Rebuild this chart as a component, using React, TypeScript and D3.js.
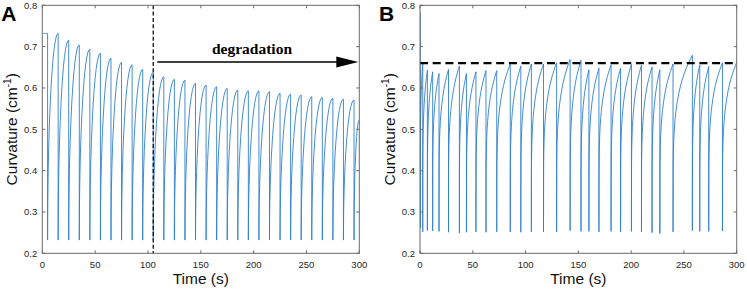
import React from "react";
import * as d3 from "d3";

// ---------- data ----------
const timeTicks = [0, 50, 100, 150, 200, 250, 300];
const curvTicks = [0.2, 0.3, 0.4, 0.5, 0.6, 0.7, 0.8];

// Panel A: drop times (s), peak before each drop, bottom after each drop
const dropTimesA = [5, 15, 25, 35, 45, 55, 65, 75, 85, 95, 105, 115, 125, 135, 145, 155, 165, 175, 185, 195, 205, 215, 225, 235, 245, 255, 265, 275, 285, 295];
const peaksA = [0.732, 0.732, 0.716, 0.704, 0.694, 0.684, 0.672, 0.662, 0.656, 0.645, 0.638, 0.627, 0.621, 0.619, 0.611, 0.607, 0.603, 0.599, 0.595, 0.593, 0.593, 0.591, 0.587, 0.585, 0.583, 0.579, 0.577, 0.575, 0.573, 0.571];
const bottomsA = [0.232, 0.232, 0.232, 0.232, 0.232, 0.232, 0.232, 0.232, 0.232, 0.232, 0.232, 0.232, 0.232, 0.232, 0.232, 0.232, 0.232, 0.232, 0.232, 0.232, 0.232, 0.232, 0.232, 0.232, 0.232, 0.232, 0.232, 0.232, 0.232, 0.232];
const startA = [0, 0.732];
const endA = [300, 0.522];
const degradationStart = 105;

// Panel B
const dropTimesB = [0.3, 2.6, 7, 12, 18, 27, 37.3, 44, 53, 62.5, 72.7, 85.5, 95.5, 105.5, 117, 129.4, 142.2, 152.5, 160, 169.5, 181, 190, 200.3, 209.8, 219.8, 227.2, 239.7, 258, 265, 273.5, 286.5];
const peaksB = [0.782, 0.66, 0.643, 0.639, 0.635, 0.645, 0.653, 0.635, 0.639, 0.642, 0.642, 0.658, 0.653, 0.658, 0.658, 0.661, 0.669, 0.667, 0.644, 0.648, 0.656, 0.648, 0.657, 0.655, 0.651, 0.644, 0.658, 0.679, 0.656, 0.652, 0.661];
const bottomsB = [0.261, 0.252, 0.255, 0.254, 0.253, 0.251, 0.249, 0.251, 0.252, 0.251, 0.252, 0.252, 0.251, 0.252, 0.252, 0.252, 0.255, 0.253, 0.253, 0.252, 0.253, 0.252, 0.253, 0.252, 0.25, 0.248, 0.252, 0.255, 0.253, 0.253, 0.254];
const startB = [0, 0.782];
const endB = [300, 0.662];
const thresholdB = 0.66;

// normalized recovery shape within one cycle (fraction of cycle, fraction of rise)
const profileS = [0, 0.01, 0.02, 0.04, 0.07, 0.1, 0.15, 0.2, 0.3, 0.4, 0.5, 0.6, 0.7, 0.8, 0.9, 1];
const profileA = [0, 0.141, 0.199, 0.28, 0.367, 0.436, 0.527, 0.6, 0.714, 0.8, 0.866, 0.917, 0.954, 0.98, 0.995, 1];
const profileB = [0, 0.398, 0.457, 0.526, 0.588, 0.631, 0.684, 0.725, 0.786, 0.833, 0.871, 0.903, 0.931, 0.956, 0.979, 1];

function buildSeries(start: number[], drops: number[], peaks: number[], bottoms: number[], end: number[], prof: number[]) {
  const pts: [number, number][] = [];
  let pt = start[0], pv = start[1];
  pts.push([pt, pv]);
  const seg = (t1: number, v1: number) => {
    for (let j = 1; j < profileS.length; j++) {
      pts.push([pt + (t1 - pt) * profileS[j], pv + (v1 - pv) * prof[j]]);
    }
  };
  drops.forEach((t, i) => {
    seg(t, peaks[i]);
    pts.push([t, bottoms[i]]);
    pt = t;
    pv = bottoms[i];
  });
  seg(end[0], end[1]);
  return pts;
}

const FONT = "'Liberation Sans', Arial, Helvetica, sans-serif";
const TOP = 5.3, BOTTOM = 253.3;

function Panel({ left, right, series, label, clipId, children }: any) {
  const x = d3.scaleLinear().domain([0, 300]).range([left, right]);
  const y = d3.scaleLinear().domain([0.2, 0.8]).range([BOTTOM, TOP]);
  const line = d3.line<[number, number]>().x((d) => x(d[0])).y((d) => y(d[1]));
  const axisColor = "#6b6b6b";
  const cx = (left + right) / 2;
  return (
    <g>
      <defs>
        <clipPath id={clipId}>
          <rect x={left} y={TOP} width={right - left} height={BOTTOM - TOP} />
        </clipPath>
      </defs>
      <path d={line(series) || ""} fill="none" stroke="#2f80cc" strokeWidth={0.9} clipPath={`url(#${clipId})`} />
      {children(x, y)}
      <rect x={left} y={TOP} width={right - left} height={BOTTOM - TOP} fill="none" stroke={axisColor} strokeWidth={1} />
      {timeTicks.map((t) => (
        <g key={"x" + t}>
          <line x1={x(t)} x2={x(t)} y1={BOTTOM} y2={BOTTOM - 3} stroke={axisColor} />
          <line x1={x(t)} x2={x(t)} y1={TOP} y2={TOP + 3} stroke={axisColor} />
          <text x={x(t)} y={268} textAnchor="middle" fontSize={9.5} fontFamily={FONT} fill="#262626">{t}</text>
        </g>
      ))}
      {curvTicks.map((v) => (
        <g key={"y" + v}>
          <line x1={left} x2={left + 3} y1={y(v)} y2={y(v)} stroke={axisColor} />
          <line x1={right} x2={right - 3} y1={y(v)} y2={y(v)} stroke={axisColor} />
          <text x={left - 5} y={y(v) + 3.4} textAnchor="end" fontSize={9.5} fontFamily={FONT} fill="#262626">{v.toFixed(1)}</text>
        </g>
      ))}
      <text x={cx} y={283.5} textAnchor="middle" fontSize={15.5} fontFamily={FONT} fill="#111">Time (s)</text>
      <text transform={`translate(${left - 25},${(TOP + BOTTOM) / 2}) rotate(-90)`} textAnchor="middle" fontSize={15.5} fontFamily={FONT} fill="#111">
        Curvature (cm<tspan fontSize={10} dy={-6}>-1</tspan><tspan dy={6}>)</tspan>
      </text>
      <text x={left - 41} y={20.5} fontSize={21} fontWeight="bold" fontFamily={FONT} fill="#000">{label}</text>
    </g>
  );
}

export default function App() {
  const seriesA = buildSeries(startA, dropTimesA, peaksA, bottomsA, endA, profileA);
  const seriesB = buildSeries(startB, dropTimesB, peaksB, bottomsB, endB, profileB);
  return (
    <svg width={747} height={291} style={{ position: "absolute", left: 0, top: 0, background: "#fff" }}>
      <Panel left={42.3} right={359.3} series={seriesA} label="A" clipId="clipA">
        {(x: any, y: any) => (
          <g>
            <line x1={x(degradationStart)} x2={x(degradationStart)} y1={TOP} y2={BOTTOM} stroke="#111" strokeWidth={1.3} strokeDasharray="4,2.3" />
            <line x1={x(degradationStart) + 4} x2={x(300) - 18} y1={62} y2={62} stroke="#000" strokeWidth={1.5} />
            <path d={`M${x(300) - 1},62 L${x(300) - 23},56.5 L${x(300) - 23},67.5 Z`} fill="#000" />
            <text x={252} y={53.5} textAnchor="middle" fontSize={15.5} fontWeight="bold" fontFamily="'Liberation Serif', 'Times New Roman', serif" fill="#000">degradation</text>
          </g>
        )}
      </Panel>
      <Panel left={420} right={736.7} series={seriesB} label="B" clipId="clipB">
        {(x: any, y: any) => (
          <line x1={x(0)} x2={x(300)} y1={y(thresholdB)} y2={y(thresholdB)} stroke="#000" strokeWidth={2.4} strokeDasharray="8,4.7" />
        )}
      </Panel>
    </svg>
  );
}
